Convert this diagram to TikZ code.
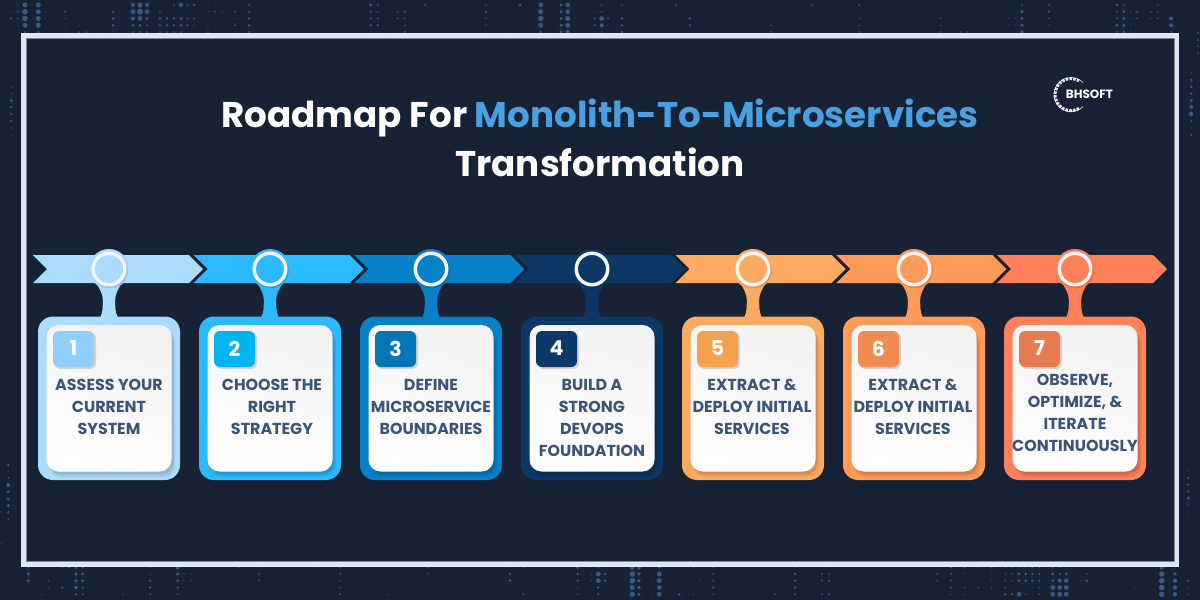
\documentclass[tikz,border=0pt]{standalone}
\usepackage{fontspec}
\setmainfont{Poppins}
\definecolor{bgnavy}{HTML}{172234}
\definecolor{framec}{HTML}{DCE9F3}
\definecolor{dotc}{HTML}{3C5780}
\definecolor{titleblue}{HTML}{4A9FE0}
\definecolor{labelc}{HTML}{3A5579}
\definecolor{ca}{HTML}{ABDCFF}\definecolor{cb}{HTML}{2CB9FF}\definecolor{cc}{HTML}{0680C6}\definecolor{cd}{HTML}{0B3866}
\definecolor{ce}{HTML}{FFAA62}\definecolor{cf}{HTML}{FF9A58}\definecolor{cg}{HTML}{FF8059}
\definecolor{ba}{HTML}{92CEFD}\definecolor{bb}{HTML}{00B4F0}\definecolor{bc}{HTML}{0476B6}\definecolor{bd}{HTML}{0C3A66}
\definecolor{be}{HTML}{F5A04C}\definecolor{bf}{HTML}{EE8C52}\definecolor{bg}{HTML}{E67B50}
\tikzset{
  titletext/.style={font=\fontsize{35.7}{40}\selectfont\bfseries,text=white,inner sep=0pt,anchor=base},
  steplabel/.style={font=\fontsize{15.9}{22}\selectfont\bfseries,text=labelc,align=center,inner sep=0pt,anchor=north},
  badgenum/.style={font=\fontsize{20.5}{24}\selectfont\bfseries,text=white,inner sep=0pt,anchor=center},
  logotext/.style={font=\fontsize{12}{14}\selectfont\bfseries,text=white,inner sep=0pt,anchor=center},
}
\newcommand{\dotstop}[6]{\fill[dotc] (#1,5) circle (#2pt) (#1,11.7) circle (#3pt) (#1,18.5) circle (#4pt) (#1,25.3) circle (#5pt) (#1,32) circle (#6pt);}
\newcommand{\dotsbot}[6]{\fill[dotc] (#1,567.5) circle (#2pt) (#1,574) circle (#3pt) (#1,580.7) circle (#4pt) (#1,587.5) circle (#5pt) (#1,594.3) circle (#6pt);}
% #1 index #2 colour #3 badge colour #4 label #5 label x offset #6 label top y
\newcommand{\roadstep}[6]{%
  \pgfmathsetmacro{\cx}{109+161*(#1-1)}
  \pgfmathsetmacro{\al}{33+160.67*(#1-1)}
  % ribbon segment
  \fill[#2] (\al,255) -- ({\al+156},255) -- ({\al+170},269) -- ({\al+156},283) -- (\al,283) -- ({\al+14},269) -- cycle;
  % stem and halo
  \fill[#2] ({\cx-9},318) .. controls ({\cx-6},312) and ({\cx-6.2},306) .. ({\cx-6.2},300) .. controls ({\cx-6.2},294) and ({\cx-9},290) .. ({\cx-12},284) -- ({\cx+12},284) .. controls ({\cx+9},290) and ({\cx+6.2},294) .. ({\cx+6.2},300) .. controls ({\cx+6.2},306) and ({\cx+6},312) .. ({\cx+9},318) -- cycle;
  \fill[#2] (\cx,269) circle (20pt);
  \fill[black,opacity=.12] ({\cx+1},270.5) circle (17.8pt);
  \fill[#2] (\cx,269) circle (14pt);
  \draw[color=white!96!black,line width=3.5pt] (\cx,269) circle (15.75pt);
  % card
  \fill[#2,rounded corners=15pt] ({\cx-71},316.5) rectangle ({\cx+71},480);
  \fill[black,opacity=.07,rounded corners=12pt] ({\cx-60},330) rectangle ({\cx+66},477);
  \fill[black,opacity=.10,rounded corners=12pt] ({\cx-60},330) rectangle ({\cx+64.5},474.5);
  \shade[top color=white!95!black,bottom color=white,rounded corners=12pt,shading angle=-20] ({\cx-62.5},325) rectangle ({\cx+62.5},471.5);
  % badge
  \fill[black,opacity=.14,rounded corners=6pt] ({\cx-54.5},332.5) rectangle ({\cx-13},369);
  \fill[#3,rounded corners=6pt] ({\cx-56},331) rectangle ({\cx-15},367);
  \node[badgenum] (num#1) at ({\cx-35.5},348.5) {#1};
  \node[steplabel] (label#1) at ({\cx+#5},#6) {#4};
}
\begin{document}
\begin{tikzpicture}[x=1pt,y=-1pt]
\useasboundingbox (0,0) rectangle (1200,600);
\fill[bgnavy] (0,0) rectangle (1200,600);
% halftone dots, top band
\dotstop{11}{.7}{.7}{1.2}{.5}{0}\dotstop{18}{.5}{.8}{1}{.5}{0}
\dotstop{25}{2.5}{2.8}{2.8}{2.5}{1}\dotstop{38.3}{2.5}{2.5}{2.5}{2.5}{1.5}
\dotstop{45}{0}{.5}{.5}{0}{0}\dotstop{65}{.5}{1}{.7}{.5}{.5}\dotstop{79}{0}{0}{.5}{.5}{1}\dotstop{86}{0}{0}{.4}{0}{1}
\dotstop{99}{0}{0}{.5}{.5}{.5}\dotstop{113}{0}{1.2}{1.5}{1.5}{.7}\dotstop{120}{0}{.7}{.5}{0}{0}
\dotstop{133}{2}{2.5}{2}{1.5}{1}\dotstop{140}{2.5}{3}{2.3}{1.5}{1}\dotstop{147}{2}{2.3}{1.7}{1}{1}
\dotstop{160}{.7}{1}{1.3}{1.3}{1}\dotstop{167}{0}{.4}{1.3}{1.3}{1}\dotstop{174}{1}{.4}{1.3}{1.3}{1}\dotstop{181}{2.2}{.4}{1.5}{1.5}{1}
\dotstop{187.5}{1.2}{.4}{1.2}{1.3}{.7}\dotstop{194}{1.3}{.4}{1}{.8}{.5}\dotstop{208}{.7}{.7}{0}{.5}{1}\dotstop{215}{.5}{1}{.4}{.4}{0}\dotstop{222}{.5}{.7}{.4}{.4}{0}
\dotstop{235}{.7}{1}{.7}{1}{.7}\dotstop{249}{1}{1.2}{1.3}{1.3}{1.2}\dotstop{262}{.5}{.5}{.4}{.4}{.4}
\dotstop{370.7}{1.5}{1.2}{1.2}{1.3}{.5}\dotstop{377.7}{1.2}{1}{1.2}{1.3}{.5}\dotstop{397.7}{.4}{1}{1}{.4}{.5}\dotstop{404.7}{.5}{1.2}{1}{1}{1.2}
\dotstop{425}{1}{0}{0}{0}{0}\dotstop{438.7}{.5}{0}{0}{0}{0}\dotstop{486}{.8}{1.1}{.8}{.8}{.7}\dotstop{506.7}{.7}{0}{0}{0}{.5}\dotstop{520}{1.5}{0}{0}{0}{0}
\dotstop{540.7}{2.4}{2.6}{2.6}{2.4}{1.5}\dotstop{547}{.5}{.5}{.5}{.5}{.5}\dotstop{561}{1.6}{1.7}{1.7}{1.7}{1.7}\dotstop{567.7}{2.4}{2.4}{2.6}{2.4}{2}
\dotstop{594.7}{.6}{.6}{1.2}{1.1}{.5}\dotstop{601.7}{1}{1}{2.4}{2}{.8}\dotstop{608}{.4}{.4}{1}{.6}{.4}\dotstop{622}{.8}{.5}{1.3}{1.2}{1.3}
\dotstop{676}{1}{0}{0}{0}{.3}\dotstop{689.7}{0}{0}{1.4}{1.1}{.3}\dotstop{771}{0}{0}{.5}{.8}{.8}\dotstop{811.7}{1}{0}{0}{0}{0}
\dotstop{859.3}{1.1}{.3}{.8}{.8}{1}\dotstop{880}{0}{0}{.6}{.5}{0}\dotstop{940.7}{0}{0}{.8}{.8}{.8}\dotstop{961}{0}{0}{0}{0}{.8}\dotstop{967.7}{0}{0}{0}{0}{.8}
\dotstop{1008}{0}{.4}{.7}{.6}{.4}\dotstop{1015}{0}{.4}{.7}{.6}{.4}\dotstop{1022}{1}{1.8}{1.7}{1.7}{1.8}\dotstop{1049}{1}{1.5}{.8}{.7}{.3}
\dotstop{1117}{1.3}{1}{1}{1.6}{1}\dotstop{1123.7}{1}{1.5}{1.6}{1.6}{1.3}\dotstop{1130.7}{.4}{.7}{.6}{.4}{.8}\dotstop{1137}{0}{1.2}{.8}{0}{0}
\dotstop{1151}{0}{.8}{.7}{0}{0}\dotstop{1157.7}{.8}{.8}{.8}{0}{0}\dotstop{1171}{.4}{0}{2}{2}{1}
% halftone dots, bottom band
\dotsbot{28.3}{1}{1.8}{1.8}{.3}{.3}\dotsbot{41.7}{0}{.4}{.4}{.4}{.6}\dotsbot{48.7}{0}{.3}{.9}{.7}{0}\dotsbot{62.3}{.7}{.3}{.3}{1.2}{0}\dotsbot{69}{1}{0}{.5}{.5}{0}
\dotsbot{76}{1.4}{1.8}{1.8}{1.8}{1.2}\dotsbot{82.7}{1.1}{1.5}{1.5}{1.2}{1.1}\dotsbot{123}{0}{0}{0}{0}{.7}\dotsbot{150.3}{.5}{.7}{1.4}{1.4}{1.1}
\dotsbot{177.7}{2}{1.7}{1.5}{1.2}{1}\dotsbot{184}{0}{.6}{.7}{.6}{0}\dotsbot{191.3}{0}{.6}{.7}{0}{0}\dotsbot{239}{.7}{0}{0}{0}{0}\dotsbot{259}{.5}{1}{1}{0}{0}
\dotsbot{313}{.3}{.5}{.5}{0}{0}\dotsbot{320}{.3}{.5}{.5}{0}{0}\dotsbot{340.3}{1}{1}{1}{1}{1.2}\dotsbot{387.7}{0}{0}{0}{0}{.6}
\dotsbot{428.3}{1}{.8}{.3}{0}{0}\dotsbot{442}{0}{.4}{.3}{0}{.4}\dotsbot{510}{.5}{1.3}{1.5}{0}{0}\dotsbot{523.3}{.6}{0}{0}{0}{1}
\dotsbot{577.7}{1.5}{1.3}{1.3}{.6}{.8}\dotsbot{591.3}{.4}{.7}{.7}{.4}{0}\dotsbot{598.3}{1}{2.4}{2.4}{1.4}{1.2}\dotsbot{605}{.4}{1.3}{1.3}{.4}{.4}
\dotsbot{632.3}{2.3}{2.8}{2.8}{2.6}{2.6}\dotsbot{639}{2}{1.8}{1.8}{1.8}{1.8}\dotsbot{652.3}{0}{.5}{.5}{.4}{.5}\dotsbot{659.3}{1.5}{2.5}{2.5}{2.3}{2.4}
\dotsbot{679.3}{0}{0}{0}{0}{1.5}\dotsbot{693.3}{.6}{0}{.4}{0}{.7}\dotsbot{700}{0}{0}{.6}{0}{0}\dotsbot{713.3}{.8}{1}{1}{1.3}{.8}\dotsbot{774.7}{0}{0}{0}{.4}{1.1}\dotsbot{795}{.7}{1.3}{1.3}{1.3}{1}
\dotsbot{822}{0}{1.1}{1}{.4}{1}\dotsbot{829}{.4}{.9}{1.2}{.4}{1.1}\dotsbot{937.3}{0}{1}{.9}{0}{0}\dotsbot{951}{1}{1}{1}{1}{.6}\dotsbot{964.7}{1}{.6}{.5}{.8}{.6}
\dotsbot{978.3}{.5}{.4}{.5}{1}{.4}\dotsbot{991.7}{1}{.5}{.6}{.9}{.5}\dotsbot{1005.3}{.6}{.8}{.9}{1}{1.3}\dotsbot{1012}{.6}{.8}{.9}{.4}{1.3}\dotsbot{1019}{.6}{1.6}{1.5}{.4}{2.3}
\dotsbot{1025.7}{.7}{1.3}{1.4}{.4}{.8}\dotsbot{1032.3}{.9}{1.2}{1.3}{.4}{.4}\dotsbot{1039.3}{.7}{1}{1.2}{.8}{1}\dotsbot{1052.7}{1}{1.5}{1.5}{2.4}{2.4}\dotsbot{1059.7}{.7}{1.3}{2}{2.4}{2.5}\dotsbot{1066.3}{0}{1.6}{2.3}{2.4}{2.4}
\dotsbot{1080}{0}{.7}{.7}{0}{0}\dotsbot{1086.7}{0}{1}{1.4}{0}{0}\dotsbot{1134.3}{0}{.5}{.5}{.5}{.5}\dotsbot{1161.7}{2}{2.6}{2.8}{2.8}{2.8}\dotsbot{1175}{0}{1.8}{2.2}{2.2}{2.2}\dotsbot{1188.3}{0}{.4}{1.2}{.8}{.7}
% halftone dots, side bands
\foreach \yy/\rr in {45/.4,80/.3,87/.7,93.6/.8,100.5/1.5,107/1.3,114/1.2,121/1.2,128/.8,135/.3}{\fill[dotc] (11.3,\yy) circle (\rr pt);}
\foreach \yy/\rr in {451/.3,458/.4,465/1.3,471/.6,478/1,485/2,491.7/1.7,499/1.7,505.7/1.7,512.3/1.3,519/.8}{\fill[dotc] (8.3,\yy) circle (\rr pt);}
\foreach \yy/\rr in {512/.6,536/.4,543/.6,550/.4,557/.5,564/.5}{\fill[dotc] (1.3,\yy) circle (\rr pt);}
\foreach \yy/\rr in {73/.8,80/1.5,87/1.4,93.6/1.5,100.5/1.8,107/2,114/2.2,121/1,128/.5,135/1.2,141.7/.3,148.6/.3}{\fill[dotc] (1191.3,\yy) circle (\rr pt);}
\foreach \yy/\rr in {33/1,40/1,46/1,53/1,80/.4,87/.5}{\fill[dotc] (1198,\yy) circle (\rr pt);}
\foreach \yy/\rr in {471/.6,478/1.2,484.6/1.2,491.5/1.3,498/1.7,505/.8,512/.6,519/.3}{\fill[dotc] (1188.3,\yy) circle (\rr pt);}
% frame
\fill[bgnavy] (23,35.5) rectangle (1177,564);
\draw[framec,line width=4.8pt] (23.2,35.7) rectangle (1177,564.2);
\draw[white!45!bgnavy,line width=.8pt] (26,38.4) rectangle (1174.2,561.4);
% title
\node[titletext] (title1) at (600,127) {Roadmap For \textcolor{titleblue}{Monolith-To-Microservices}};
\node[titletext] (title2) at (600,176) {Transformation};
% logo
\draw[white!88!bgnavy,line width=3pt,dash pattern=on 2.6pt off 1.2pt] (1071,94.6) ++(60:16) arc[start angle=60,end angle=300,radius=16];
\draw[white,line width=.5pt] (1071,94.6) ++(45:17) arc[start angle=45,end angle=315,radius=17];
\node[logotext] (logo) at (1089.5,94.3) {BHSOFT};
% steps
\roadstep{1}{ca}{ba}{ASSESS YOUR\\CURRENT\\SYSTEM}{0}{379}
\roadstep{2}{cb}{bb}{CHOOSE THE\\RIGHT\\STRATEGY}{2}{379}
\roadstep{3}{cc}{bc}{DEFINE\\MICROSERVICE\\BOUNDARIES}{0}{379}
\roadstep{4}{cd}{bd}{BUILD A\\STRONG\\DEVOPS\\FOUNDATION}{0}{379}
\roadstep{5}{ce}{be}{EXTRACT \&\\DEPLOY INITIAL\\SERVICES}{-1}{379}
\roadstep{6}{cf}{bf}{EXTRACT \&\\DEPLOY INITIAL\\SERVICES}{-1}{379}
\roadstep{7}{cg}{bg}{OBSERVE,\\OPTIMIZE, \&\\ITERATE\\CONTINUOUSLY}{0}{373.5}
\end{tikzpicture}
\end{document}
